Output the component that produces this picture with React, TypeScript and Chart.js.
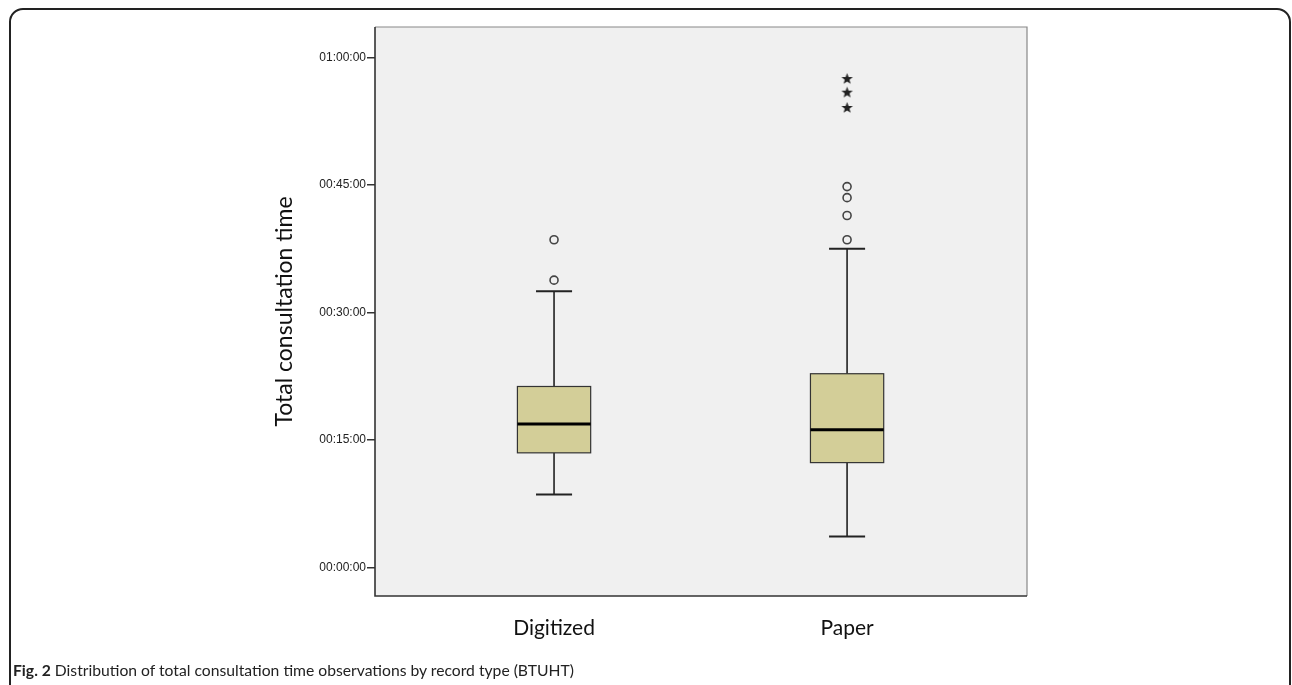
import React, { useEffect, useRef } from "react";
import { Chart, registerables } from "chart.js";

Chart.register(...registerables);

// ---- data (minutes) ----
const categories = ["Digitized", "Paper"];
const whiskerLow = [8.6, 3.65];
const q1 = [13.5, 12.35];
const median = [16.9, 16.2];
const q3 = [21.3, 22.8];
const whiskerHigh = [32.5, 37.5];
const digitizedOutliers = [33.8, 38.55];
const paperOutliers = [38.55, 41.4, 43.5, 44.8];
const paperExtremes = [54.1, 55.9, 57.5];
const yTicks = [0, 15, 30, 45, 60];
const yMin = -3.33;
const yMax = 63.56;

const pad2 = (n: number) => String(n).padStart(2, "0");
const fmtTime = (mins: number) => {
  const total = Math.round(mins * 60);
  const h = Math.floor(total / 3600);
  const m = Math.floor((total % 3600) / 60);
  const s = total % 60;
  return `${pad2(h)}:${pad2(m)}:${pad2(s)}`;
};

const BOX_HALF = 0.125;
const CAP_HALF = 0.0615;

const boxPlugin = {
  id: "boxplotDraw",
  beforeDraw(chart: any) {
    const { ctx, chartArea } = chart;
    ctx.save();
    ctx.fillStyle = "#f0f0f0";
    ctx.fillRect(chartArea.left, chartArea.top, chartArea.right - chartArea.left, chartArea.bottom - chartArea.top);
    ctx.restore();
  },
  beforeDatasetsDraw(chart: any) {
    const { ctx } = chart;
    const xs = chart.scales.x;
    const ys = chart.scales.y;
    ctx.save();
    categories.forEach((_, i) => {
      const cx = xs.getPixelForValue(i);
      const bl = xs.getPixelForValue(i - BOX_HALF);
      const br = xs.getPixelForValue(i + BOX_HALF);
      const cl = xs.getPixelForValue(i - CAP_HALF);
      const cr = xs.getPixelForValue(i + CAP_HALF);
      const yLo = ys.getPixelForValue(whiskerLow[i]);
      const yQ1 = ys.getPixelForValue(q1[i]);
      const yMed = ys.getPixelForValue(median[i]);
      const yQ3 = ys.getPixelForValue(q3[i]);
      const yHi = ys.getPixelForValue(whiskerHigh[i]);
      ctx.strokeStyle = "#222";
      ctx.lineWidth = 1.6;
      // whiskers
      ctx.beginPath();
      ctx.moveTo(cx, yQ1);
      ctx.lineTo(cx, yLo);
      ctx.moveTo(cx, yQ3);
      ctx.lineTo(cx, yHi);
      ctx.stroke();
      ctx.lineWidth = 2;
      ctx.beginPath();
      ctx.moveTo(cl, yLo);
      ctx.lineTo(cr, yLo);
      ctx.moveTo(cl, yHi);
      ctx.lineTo(cr, yHi);
      ctx.stroke();
      // box
      ctx.fillStyle = "#d3ce98";
      ctx.fillRect(bl, yQ3, br - bl, yQ1 - yQ3);
      ctx.lineWidth = 1.2;
      ctx.strokeStyle = "#333";
      ctx.strokeRect(bl, yQ3, br - bl, yQ1 - yQ3);
      // median
      ctx.strokeStyle = "#000";
      ctx.lineWidth = 3;
      ctx.beginPath();
      ctx.moveTo(bl, yMed);
      ctx.lineTo(br, yMed);
      ctx.stroke();
    });
    ctx.restore();
  },
  afterDraw(chart: any) {
    const { ctx, chartArea } = chart;
    const { left, top, right, bottom } = chartArea;
    ctx.save();
    ctx.strokeStyle = "#888";
    ctx.lineWidth = 1.2;
    ctx.beginPath();
    ctx.moveTo(left, top);
    ctx.lineTo(right, top);
    ctx.lineTo(right, bottom);
    ctx.stroke();
    ctx.strokeStyle = "#333";
    ctx.lineWidth = 1.6;
    ctx.beginPath();
    ctx.moveTo(left, top);
    ctx.lineTo(left, bottom);
    ctx.lineTo(right, bottom);
    ctx.stroke();
    ctx.restore();
  },
};

function makeStar(): HTMLCanvasElement {
  const c = document.createElement("canvas");
  c.width = 13;
  c.height = 13;
  const g = c.getContext("2d")!;
  g.fillStyle = "#222";
  g.beginPath();
  const R = 6;
  const r = 2.5;
  for (let k = 0; k < 10; k++) {
    const ang = -Math.PI / 2 + (k * Math.PI) / 5;
    const rad = k % 2 === 0 ? R : r;
    const px = 6.5 + rad * Math.cos(ang);
    const py = 6.9 + rad * Math.sin(ang);
    if (k === 0) g.moveTo(px, py);
    else g.lineTo(px, py);
  }
  g.closePath();
  g.fill();
  return c;
}

export default function App() {
  const ref = useRef<HTMLCanvasElement | null>(null);
  useEffect(() => {
    if (!ref.current) return;
    const star = makeStar();
    const chart = new Chart(ref.current, {
      type: "scatter",
      data: {
        datasets: [
          {
            label: "Outliers",
            data: [
              ...digitizedOutliers.map((v) => ({ x: 0, y: v })),
              ...paperOutliers.map((v) => ({ x: 1, y: v })),
            ],
            pointStyle: "circle",
            pointRadius: 4,
            pointBorderWidth: 1.6,
            pointBorderColor: "#444",
            pointBackgroundColor: "rgba(0,0,0,0)",
          },
          {
            label: "Extremes",
            data: paperExtremes.map((v) => ({ x: 1, y: v })),
            pointStyle: star as any,
            pointRadius: 6,
          },
        ],
      },
      options: {
        responsive: false,
        animation: false,
        devicePixelRatio: 1,
        layout: { padding: { left: 250, right: 265, top: 27, bottom: 39 } },
        plugins: { legend: { display: false }, tooltip: { enabled: false } },
        scales: {
          x: {
            type: "linear",
            min: -0.611,
            max: 1.614,
            afterBuildTicks: (s: any) => {
              s.ticks = categories.map((_, i) => ({ value: i }));
            },
            afterFit: (s: any) => {
              s.height = 50;
            },
            grid: { display: false, drawTicks: false },
            border: { display: false },
            ticks: {
              padding: 20,
              color: "#111",
              font: { family: "Lato", size: 21 },
              maxRotation: 0,
              autoSkip: false,
              callback: (v: any) => categories[v as number] ?? "",
            },
          },
          y: {
            type: "linear",
            min: yMin,
            max: yMax,
            afterBuildTicks: (s: any) => {
              s.ticks = yTicks.map((v) => ({ value: v }));
            },
            afterFit: (s: any) => {
              s.width = 125;
            },
            grid: { drawOnChartArea: false, drawTicks: true, tickLength: 8, tickColor: "#333", lineWidth: 1.5 },
            border: { display: false },
            ticks: {
              padding: 1,
              color: "#222",
              font: { family: "Liberation Sans", size: 12 },
              callback: (v: any) => fmtTime(v as number),
            },
            title: {
              display: true,
              text: "Total consultation time",
              color: "#111",
              font: { family: "Lato", size: 23 },
              padding: { top: 21, bottom: 0 },
            },
          },
        },
      },
      plugins: [boxPlugin],
    });
    return () => chart.destroy();
  }, []);

  return (
    <div style={{ position: "absolute", left: 0, top: 0, width: 1292, height: 685, overflow: "hidden", background: "#fff" }}>
      <div
        style={{
          position: "absolute",
          left: 9,
          top: 8,
          width: 1282,
          height: 692,
          boxSizing: "border-box",
          border: "2px solid #222",
          borderRadius: 14,
        }}
      />
      <canvas ref={ref} width={1292} height={685} style={{ position: "absolute", left: 0, top: 0 }} />
      <div
        style={{
          position: "absolute",
          left: 13,
          top: 660,
          fontFamily: "Lato",
          fontSize: 15.7,
          lineHeight: "20px",
          color: "#222",
          whiteSpace: "nowrap",
        }}
      >
        <b>Fig. 2</b> Distribution of total consultation time observations by record type (BTUHT)
      </div>
    </div>
  );
}
